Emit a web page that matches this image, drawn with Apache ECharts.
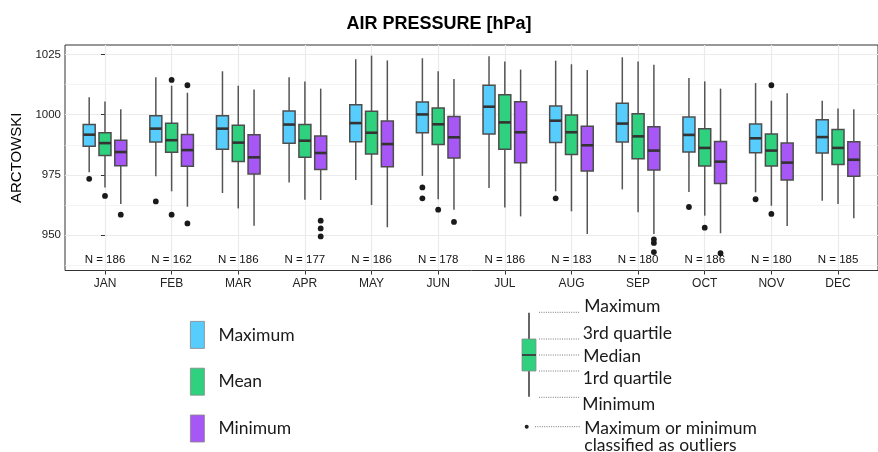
<!DOCTYPE html>
<html>
<head>
<meta charset="utf-8">
<script src="https://cdn.jsdelivr.net/npm/echarts@6/dist/echarts.min.js"></script>
<style>
html,body{margin:0;padding:0;background:#fff;}
#chart{width:878px;height:452px;}
</style>
</head>
<body>
<div id="chart"></div>
<script>
// ---- data ----
const months = ['JAN','FEB','MAR','APR','MAY','JUN','JUL','AUG','SEP','OCT','NOV','DEC'];
const nCounts = [186,162,186,177,186,178,186,183,180,186,180,185];
const yMajorTicks = [950, 975, 1000, 1025];
const yMinorTicks = [937.5, 962.5, 987.5, 1012.5];
const groupNames = ['Maximum', 'Mean', 'Minimum'];

// [lower whisker, Q1, median, Q3, upper whisker]
const maximumBoxes = [
  [976.1, 986.9, 991.7, 995.9, 1007.2],
  [974.4, 988.7, 994.2, 999.6, 1015.5],
  [967.5, 985.6, 994.2, 999.6, 1018.0],
  [971.9, 988.1, 995.9, 1001.5, 1015.5],
  [972.9, 988.8, 996.5, 1004.1, 1023.0],
  [974.6, 992.5, 1000.1, 1005.3, 1023.4],
  [969.6, 992.0, 1003.3, 1012.2, 1024.2],
  [968.2, 988.5, 997.5, 1003.6, 1022.4],
  [969.0, 988.7, 996.3, 1004.7, 1023.8],
  [967.9, 984.5, 991.6, 999.0, 1015.2],
  [967.8, 984.2, 990.2, 996.1, 1013.1],
  [964.3, 984.1, 990.7, 997.9, 1005.8]
];
const meanBoxes = [
  [969.8, 983.1, 988.2, 992.5, 1005.5],
  [968.2, 984.4, 989.4, 996.4, 1012.0],
  [961.1, 980.6, 988.4, 995.6, 1012.0],
  [964.7, 982.3, 989.2, 995.9, 1013.8],
  [962.5, 983.7, 992.5, 1001.4, 1024.5],
  [964.9, 987.6, 996.0, 1002.8, 1018.0],
  [961.5, 985.6, 996.8, 1008.3, 1022.1],
  [959.9, 983.5, 992.7, 999.9, 1020.9],
  [959.5, 981.7, 991.0, 1000.4, 1022.1],
  [958.1, 978.7, 986.2, 994.2, 1013.8],
  [962.2, 978.7, 985.1, 992.0, 1005.8],
  [962.9, 979.3, 986.2, 993.8, 1002.6]
];
const minimumBoxes = [
  [962.9, 978.8, 984.5, 989.4, 1002.2],
  [961.8, 978.6, 985.3, 991.8, 1009.1],
  [953.9, 975.4, 982.3, 991.7, 1010.4],
  [964.6, 977.3, 984.1, 991.1, 1010.8],
  [953.3, 978.4, 987.8, 997.4, 1022.5],
  [960.6, 982.0, 990.6, 999.2, 1014.8],
  [957.8, 980.1, 992.7, 1005.4, 1018.7],
  [950.5, 976.6, 987.3, 995.2, 1018.5],
  [950.5, 977.0, 985.1, 995.0, 1020.7],
  [950.8, 971.4, 980.5, 988.9, 1010.8],
  [953.8, 972.9, 980.1, 988.2, 1008.9],
  [957.0, 974.4, 981.3, 988.8, 1002.2]
];
// outliers: [month index, value]
const maximumOutliers = [[0,973.4],[1,964.0],[5,969.8],[5,965.3],[7,965.3],[9,961.7],[10,964.9]];
const meanOutliers = [[0,966.3],[1,1014.4],[1,958.5],[5,960.6],[9,953.1],[10,1012.2],[10,958.8]];
const minimumOutliers = [[0,958.5],[1,1012.2],[1,954.9],[3,956.0],[3,952.8],[3,949.5],[5,955.5],[8,948.3],[8,946.8],[8,943.0],[9,942.5]];

// ---- styling / layout ----
const COLORS = ['#56CDFC', '#2FD17F', '#A657F5'];
const DODGE = [-0.237, 0, 0.237];   // fraction of a category step
const BOXW = 0.18;                  // fraction of a category step
const N_LABEL_Y = 939.6;
const FONT = 'Liberation Sans, Arial, sans-serif';
const LFONT = 'Lato, Open Sans, sans-serif';

const boxSets = [maximumBoxes, meanBoxes, minimumBoxes];
const outlierSets = [maximumOutliers, meanOutliers, minimumOutliers];

function boxRender(g) {
  return function (params, api) {
    const i = api.value(0);
    const step = api.size([1, 0])[0];
    const dx = DODGE[g] * step;
    const hw = BOXW * step / 2;
    const pLow = api.coord([i, api.value(1)]);
    const pQ1 = api.coord([i, api.value(2)]);
    const pMed = api.coord([i, api.value(3)]);
    const pQ3 = api.coord([i, api.value(4)]);
    const pHigh = api.coord([i, api.value(5)]);
    const x = pMed[0] + dx;
    const wStyle = { stroke: '#555555', lineWidth: 1.5 };
    return {
      type: 'group',
      children: [
        { type: 'line', shape: { x1: x, y1: pHigh[1], x2: x, y2: pQ3[1] }, style: wStyle },
        { type: 'line', shape: { x1: x, y1: pQ1[1], x2: x, y2: pLow[1] }, style: wStyle },
        { type: 'rect', shape: { x: x - hw, y: pQ3[1], width: 2 * hw, height: pQ1[1] - pQ3[1] },
          style: { fill: COLORS[g], stroke: '#4d4d4d', lineWidth: 1.5 } },
        { type: 'line', shape: { x1: x - hw, y1: pMed[1], x2: x + hw, y2: pMed[1] },
          style: { stroke: '#333333', lineWidth: 2.6 } }
      ]
    };
  };
}

function outlierRender(g) {
  return function (params, api) {
    const i = api.value(0);
    const step = api.size([1, 0])[0];
    const p = api.coord([i, api.value(1)]);
    return { type: 'circle', shape: { cx: p[0] + DODGE[g] * step, cy: p[1], r: 2.9 },
      style: { fill: '#1a1a1a' } };
  };
}

const series = [];
groupNames.forEach(function (name, g) {
  series.push({
    name: name,
    type: 'custom',
    renderItem: boxRender(g),
    itemStyle: { color: COLORS[g] },
    encode: { x: 0, y: [1, 2, 3, 4, 5] },
    data: boxSets[g].map(function (b, i) { return [i].concat(b); }),
    z: 3
  });
});
groupNames.forEach(function (name, g) {
  series.push({
    type: 'custom',
    renderItem: outlierRender(g),
    encode: { x: 0, y: 1 },
    data: outlierSets[g],
    z: 4
  });
});
series.push({
  type: 'custom',
  renderItem: function (params, api) {
    const p = api.coord([api.value(0), N_LABEL_Y]);
    return { type: 'text', x: p[0], y: p[1],
      style: { text: 'N = ' + api.value(1), fill: '#111', fontSize: 11.5, fontFamily: FONT,
        align: 'center', verticalAlign: 'middle', textAlign: 'center', textVerticalAlign: 'middle' } };
  },
  encode: { x: 0 },
  data: nCounts.map(function (n, i) { return [i, n]; }),
  z: 5
});

const chart = echarts.init(document.getElementById('chart'), null, { renderer: 'canvas' });

const dotted = { stroke: '#555', lineWidth: 0.8, lineDash: [1, 1.3] };
const lt = function (x, y, t) {
  return { type: 'text', x: x, y: y, style: { text: t, fill: '#1a1a1a', fontSize: 17.5, fontFamily: LFONT,
    textVerticalAlign: 'middle', verticalAlign: 'middle' } };
};
const dl = function (x1, x2, y) {
  return { type: 'line', shape: { x1: x1, y1: y, x2: x2, y2: y }, style: dotted };
};

chart.setOption({
  animation: false,
  backgroundColor: '#fff',
  textStyle: { fontFamily: FONT },
  title: {
    text: 'AIR PRESSURE [hPa]', left: 'center', top: 10,
    textStyle: { fontSize: 18, fontWeight: 'bold', color: '#000', fontFamily: FONT }
  },
  grid: { left: 65, top: 45, right: -10, bottom: 181.5, show: true, borderColor: '#333', borderWidth: 1, backgroundColor: '#fff' },
  legend: {
    data: groupNames.map(function (n, g) {
      return { name: n, icon: 'rect', itemStyle: { color: COLORS[g], borderColor: '#888', borderWidth: 0.8 } };
    }),
    orient: 'vertical', left: 185, top: 316,
    itemWidth: 14, itemHeight: 27, itemGap: 19,
    selectedMode: false,
    textStyle: { fontSize: 17.5, fontFamily: LFONT, color: '#1a1a1a', padding: [0, 0, 0, 9] }
  },
  xAxis: {
    type: 'value', min: -0.6, max: 11.6,
    axisLine: { show: false },
    axisTick: { show: true, customValues: months.map(function (m, i) { return i; }), length: 4, lineStyle: { color: '#333' } },
    axisLabel: { customValues: months.map(function (m, i) { return i; }),
      formatter: function (v) { return months[Math.round(v)]; }, fontSize: 12, color: '#222', margin: 7 },
    splitLine: { show: true, lineStyle: { color: '#ebebeb', width: 1.2 } }
  },
  yAxis: [{
    type: 'value', min: 935.35, max: 1028.9,
    name: 'ARCTOWSKI', nameLocation: 'middle', nameGap: 38,
    nameTextStyle: { fontSize: 15, color: '#000', fontFamily: FONT },
    axisLine: { show: false },
    axisTick: { show: true, customValues: yMajorTicks, length: 4, lineStyle: { color: '#333' } },
    axisLabel: { customValues: yMajorTicks, formatter: function (v) { return String(v); }, fontSize: 11.5, color: '#222', margin: 4 },
    splitLine: { show: true, lineStyle: { color: '#ebebeb', width: 1.2 } }
  }, {
    type: 'value', min: 935.35, max: 1028.9, position: 'left',
    axisLine: { show: false },
    axisTick: { show: false, customValues: yMinorTicks },
    axisLabel: { show: false, customValues: yMinorTicks },
    splitLine: { show: true, lineStyle: { color: '#efefef', width: 0.7 } }
  }],
  graphic: [
    // explanation glyph
    { type: 'line', shape: { x1: 529, y1: 312.7, x2: 529, y2: 396.7 }, style: { stroke: '#666', lineWidth: 2 } },
    { type: 'rect', shape: { x: 522, y: 339, width: 14, height: 32 }, style: { fill: COLORS[1], stroke: '#8a8a8a', lineWidth: 0.8 } },
    { type: 'line', shape: { x1: 522, y1: 355, x2: 536, y2: 355 }, style: { stroke: '#3a3a3a', lineWidth: 1.8 } },
    { type: 'circle', shape: { cx: 526.7, cy: 426.7, r: 2 }, style: { fill: '#222' } },
    dl(539, 580, 312.3), dl(539, 580, 339), dl(539, 580, 355), dl(539, 580, 371), dl(539, 580, 397.3), dl(535, 580, 426.7),
    lt(584.3, 306.7, 'Maximum'),
    lt(582.7, 333.3, '3rd quartile'),
    lt(583.3, 356.7, 'Median'),
    lt(582.7, 378.3, '1rd quartile'),
    lt(582.3, 404.3, 'Minimum'),
    lt(584.3, 428.3, 'Maximum or minimum'),
    lt(584.3, 445, 'classified as outliers')
  ],
  series: series
});
</script>
</body>
</html>
